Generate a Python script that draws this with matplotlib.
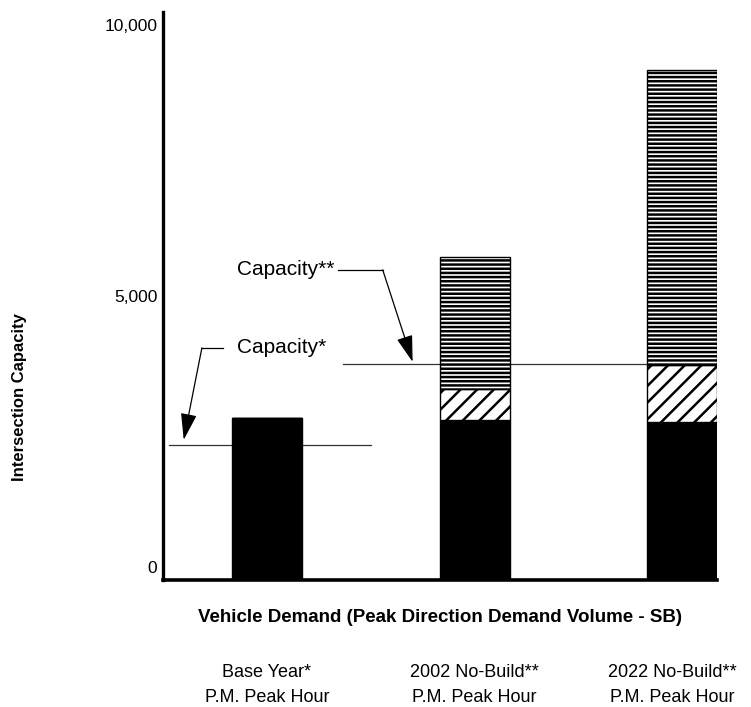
import numpy as np
import matplotlib
matplotlib.use("Agg")
import matplotlib.pyplot as plt
from matplotlib.transforms import ScaledTranslation

# values (vehicles per hour)
categories = ["Base Year*\nP.M. Peak Hour",
              "2002 No-Build**\nP.M. Peak Hour",
              "2022 No-Build**\nP.M. Peak Hour"]
base_demand = [2750, 2710, 2680]       # solid black part
diag_top = [2750, 3280, 3730]          # top of diagonal hatched part
total_demand = [2750, 5720, 9170]      # top of horizontal hatched part
capacity_base = 2250
capacity_nobuild = 3750

plt.rcParams['font.family'] = ['Liberation Sans', 'DejaVu Sans']
plt.rcParams['hatch.linewidth'] = 1.8
plt.rcParams['hatch.color'] = 'black'

fig = plt.figure(figsize=(7.51, 7.07), dpi=100)
ax = fig.add_axes([0.217, 0.180, 0.738, 0.803])

y_floor = -240
x = np.arange(len(categories))
w = 0.337

base = np.array(base_demand)
mid = np.array(diag_top)
tot = np.array(total_demand)

# capacity lines sit behind the bars
ax.plot([-0.47, 0.5], [capacity_base, capacity_base], color='#333333', lw=0.9, zorder=1)
ax.plot([0.365, 1.83], [capacity_nobuild, capacity_nobuild], color='#333333', lw=0.9, zorder=1)

ax.bar(x, base - y_floor, bottom=y_floor, width=w, color='black', edgecolor='black', zorder=2)
ax.bar(x, mid - base, bottom=base, width=w, color='white', edgecolor='black',
       hatch='//', linewidth=1, zorder=2)
ax.bar(x, tot - mid, bottom=mid, width=w, color='white', edgecolor='black',
       hatch='----', linewidth=1, zorder=2)

# annotation leaders
head = '-|>,head_length=1.65,head_width=0.5'
ax.plot([-0.21, -0.3125], [4041, 4041], color='black', lw=0.9)
ax.annotate('', xy=(-0.40, 2343), xytext=(-0.3125, 4041),
            arrowprops=dict(arrowstyle=head, color='black', lw=0.9, shrinkA=0, shrinkB=0))
ax.text(-0.144, 4041, 'Capacity*', fontsize=15, va='center', ha='left')

ax.plot([0.341, 0.558], [5480, 5480], color='black', lw=0.9)
ax.annotate('', xy=(0.702, 3782), xytext=(0.558, 5480),
            arrowprops=dict(arrowstyle=head, color='black', lw=0.9, shrinkA=0, shrinkB=0))
ax.text(-0.144, 5480, 'Capacity**', fontsize=15, va='center', ha='left')

ax.set_xlim(-0.5, 2 + w / 2)
ax.set_ylim(y_floor, 10240)

ax.spines['top'].set_visible(False)
ax.spines['right'].set_visible(False)
ax.spines['left'].set_linewidth(2.4)
ax.spines['bottom'].set_linewidth(2.6)

ax.set_yticks([0, 5000, 10000])
ax.set_yticklabels(['0', '5,000', '10,000'], fontsize=12.5)
ax.tick_params(axis='y', length=0, pad=4)

ax.set_xticks(x)
ax.set_xticklabels(categories, fontsize=13, linespacing=1.55)
ax.tick_params(axis='x', length=0, pad=61)
# last label sits a little left of its bar so it stays on the page
last = ax.get_xticklabels()[-1]
last.set_transform(last.get_transform() + ScaledTranslation(-0.1, 0, fig.dpi_scale_trans))

fig.text(0.586, 1 - 617 / 707, 'Vehicle Demand (Peak Direction Demand Volume - SB)',
         fontsize=13.5, fontweight='bold', ha='center', va='center')
fig.text(20 / 751, 1 - 397 / 707, 'Intersection Capacity', fontsize=12,
         fontweight='bold', rotation=90, ha='center', va='center')

fig.savefig('out.png', dpi=100)
